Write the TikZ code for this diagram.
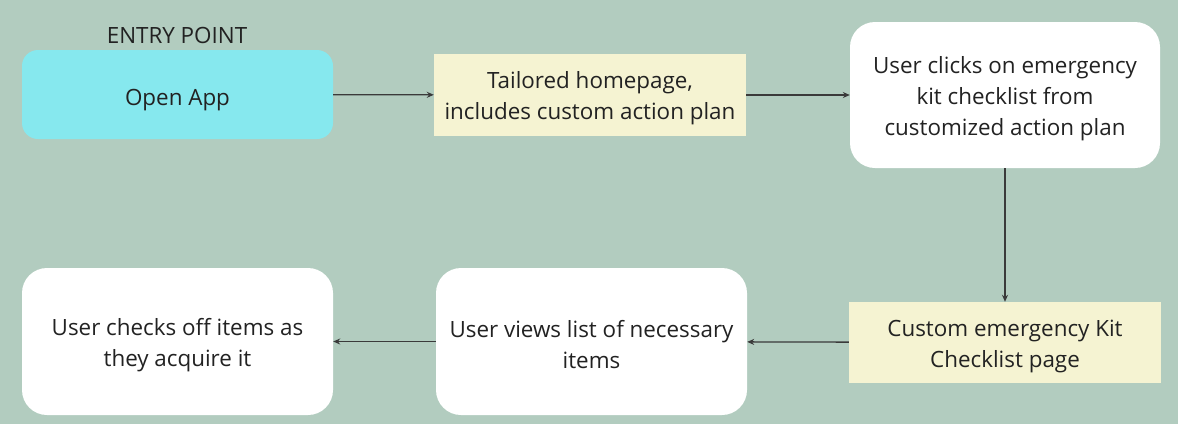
\documentclass[tikz,border=0pt]{standalone}
\usepackage{fontspec}
\setmainfont{Open Sans}
\usetikzlibrary{arrows.meta}
\definecolor{bg}{HTML}{B2CCBF}
\definecolor{cyanbox}{HTML}{86E8EE}
\definecolor{yelbox}{HTML}{F5F3D2}
\definecolor{ink}{HTML}{222222}
\definecolor{arr}{HTML}{3A3A3A}
\tikzset{
  txt/.style={align=center, text=ink, font=\fontsize{22.4}{31}\selectfont, inner sep=0pt, yshift=-3.5pt},
  base/.style={rectangle, inner sep=0pt},
  entrybox/.style={base, fill=cyanbox, rounded corners=16pt, minimum width=311pt, minimum height=89pt},
  yelbox/.style={base, fill=yelbox, minimum width=312pt, minimum height=82pt},
  whitebox/.style={base, fill=white, rounded corners=25pt, minimum width=311pt, minimum height=147pt},
  conn/.style={draw=arr, line width=1.3pt, -{Stealth[length=7pt,width=6pt]}},
  lbl/.style={text=ink, font=\fontsize{22.4}{26}\selectfont, inner sep=0pt}
}
\begin{document}
\begin{tikzpicture}[x=1pt,y=-1pt]
\fill[bg] (0,0) rectangle (1178,424);
\useasboundingbox (0,0) rectangle (1178,424);
\node[lbl] (entry) at (177,35) {ENTRY POINT};
\node[entrybox, label={[txt, yshift=-2.5pt]center:Open App}] (open) at (177.5,94.5) {};
\node[yelbox, label={[txt]center:{Tailored homepage,\\includes custom action plan}}] (tailor) at (590,95) {};
\node[whitebox, minimum width=310pt, minimum height=146pt, label={[txt]center:{User clicks on emergency\\kit checklist from\\customized action plan}}] (click) at (1005,95) {};
\node[yelbox, minimum height=81pt, label={[txt]center:{Custom emergency Kit\\Checklist page}}] (kit) at (1005,342.5) {};
\node[whitebox, label={[txt]center:{User views list of necessary\\items}}] (views) at (591.5,341.5) {};
\node[whitebox, label={[txt]center:{User checks off items as\\they acquire it}}] (checks) at (177.5,341.5) {};
\draw[conn] (open) -- (tailor);
\draw[conn] (tailor) -- (click);
\draw[conn] (click) -- (kit);
\draw[conn] (kit) -- (views);
\draw[conn] (views) -- (checks);
\end{tikzpicture}
\end{document}
